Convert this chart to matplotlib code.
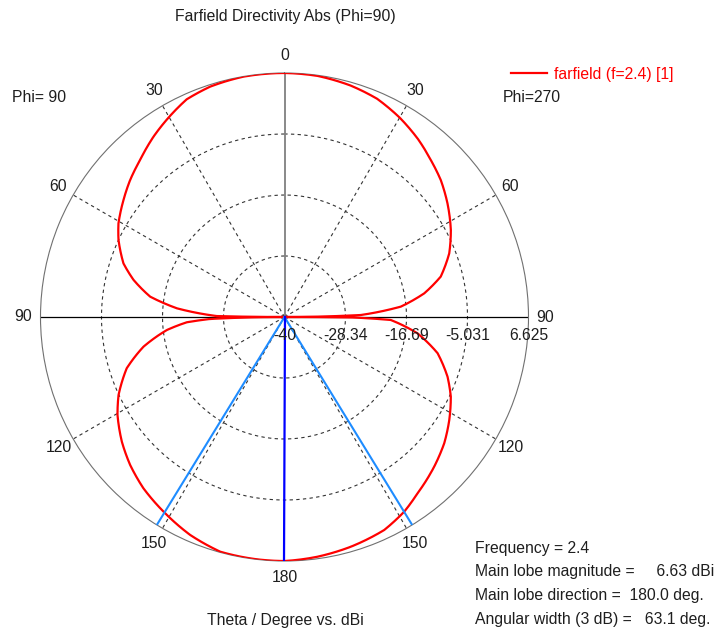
#!/usr/bin/env python3
"""Farfield directivity polar cut (Phi=90 / Phi=270), CST-style."""
import numpy as np
import matplotlib
matplotlib.use("Agg")
import matplotlib.pyplot as plt
from matplotlib.transforms import offset_copy

W, H = 725, 637
RMIN, RMAX = -40.0, 6.625
RINGS = [-28.34, -16.69, -5.031]
R_TICKS = [-40.0, -28.34, -16.69, -5.031, 6.625]
R_LABELS = ["-40", "-28.34", "-16.69", "-5.031", "6.625"]
ANGLE_TICKS = [0, 30, 60, 90, 120, 150, 180]

# Phi=90 half (drawn on the left), theta in degrees, directivity in dBi
theta_left = [0, 9.7, 17.9, 24.2, 29.7, 36, 42.6, 48.4, 54, 60.6, 65.1, 71.6, 76.2, 81.4,
              85.4, 89.2, 90, 91.5, 93.1, 96.3, 101.9, 108, 115.2, 120.4, 127.5, 133.8,
              140.5, 148.7, 156.6, 164.7, 173.5, 180]
db_left = [6.63, 6.59, 6.25, 5.6, 4.2, 2.59, 0.76, -0.56, -1.97, -3.58, -5.03, -7.57,
           -10.3, -14.05, -19.4, -27.06, -40.0, -25.8, -21.3, -17.4, -12.46, -8.3, -4.95,
           -3.0, -0.83, 0.86, 2.4, 3.89, 5.38, 6.5, 6.6, 6.63]

# Phi=270 half (drawn on the right)
theta_right = [0, 7.8, 15.9, 23, 30, 36.9, 43, 48.8, 55.1, 62.4, 68.9, 75.5, 80.4, 84.9,
               88.5, 90, 90.4, 91.6, 97, 103.3, 110.1, 115.6, 122, 128.3, 135, 143, 148.4,
               154.9, 163.9, 172.2, 180]
db_right = [6.63, 6.5, 6.0, 5.3, 4.0, 2.5, 1.0, -0.3, -2.03, -4.13, -6.26, -9.16,
            -12.92, -17.68, -25.4, -40.0, -27.0, -19.7, -14.4, -9.94, -6.83, -4.76, -2.87,
            -1.1, 0.45, 2.21, 3.67, 4.94, 5.69, 6.24, 6.63]

FREQ = 2.4
MAIN_MAG = 6.63
MAIN_DIR = 180.0
BEAMWIDTH = 63.1

TXT = "#1e1e1e"
FS = 11.3
plt.rcParams.update({"font.family": ["Liberation Sans", "DejaVu Sans"], "font.size": FS})

fig = plt.figure(figsize=(W / 100, H / 100), dpi=100)
cx, cy, R = 284.5, 317.0, 244.0
ax = fig.add_axes([(cx - R) / W, 1 - (cy + R) / H, 2 * R / W, 2 * R / H], projection="polar")
ax.set_theta_zero_location("N")
ax.set_theta_direction(1)
ax.set_ylim(RMIN, RMAX)
ax.grid(False)
ax.set_xticks([])
ax.set_yticks([])
ax.spines["polar"].set_color("#707070")
ax.spines["polar"].set_linewidth(0.8)

# grid: dashed rings and spokes, solid main axes
ring = np.linspace(0, 2 * np.pi, 400)
for r in RINGS:
    ax.plot(ring, np.full_like(ring, r), color="#333333", lw=0.8, ls=(0, (3, 3)))
for a in (30, 60, 120, 150):
    for s in (1, -1):
        t = np.deg2rad(s * a)
        ax.plot([t, t], [RMIN, RMAX], color="#333333", lw=0.8, ls=(0, (3, 3)))
for t in (np.pi / 2, -np.pi / 2):
    ax.plot([t, t], [RMIN, RMAX], color="black", lw=0.9)
ax.plot([0, 0], [RMIN, RMAX], color="#808080", lw=1.3)

# pattern: left half 0->180, right half 180->0
ang = np.concatenate([np.deg2rad(theta_left), 2 * np.pi - np.deg2rad(theta_right[::-1])])
val = np.clip(np.concatenate([db_left, db_right[::-1]]), RMIN, None)
line, = ax.plot(ang, val, color="#ff0000", lw=1.6, label="farfield (f=2.4) [1]", zorder=4)
# let the polar transform draw each segment as an arc instead of a chord
line.get_path()._interpolation_steps = 16

# main lobe direction and 3 dB width
md = np.deg2rad(MAIN_DIR)
hw = np.deg2rad(BEAMWIDTH / 2)
for t in (md - hw, md + hw):
    ax.plot([t, t], [RMIN, RMAX], color="#1e8cff", lw=1.5, zorder=5)
ax.plot([md, md], [RMIN, RMAX], color="#0000ff", lw=1.6, zorder=6)

# angle labels
off = 17
for a in ANGLE_TICKS:
    for s in (1, -1):
        if s == -1 and a in (0, 180):
            continue
        t = np.deg2rad(s * a)
        tr = offset_copy(ax.transData, fig=fig, x=-np.sin(t) * off, y=np.cos(t) * off, units="dots")
        ax.text(t, RMAX, str(a), transform=tr, ha="center", va="center", color=TXT,
                clip_on=False)

# radial labels along the right horizontal axis
tr = offset_copy(ax.transData, fig=fig, x=0, y=-18, units="dots")
for r, lab in zip(R_TICKS, R_LABELS):
    ax.text(-np.pi / 2, r, lab, transform=tr, ha="center", va="center", color=TXT,
            clip_on=False, zorder=7)

fig.text(285 / W, 1 - 17 / H, "Farfield Directivity Abs (Phi=90)", ha="center", va="center", color=TXT)
fig.text(285 / W, 1 - 620 / H, "Theta / Degree vs. dBi", ha="center", va="center", color=TXT)
fig.text(12 / W, 1 - 98 / H, "Phi= 90", ha="left", va="center", color=TXT)
fig.text(503 / W, 1 - 98 / H, "Phi=270", ha="left", va="center", color=TXT)

fig.legend(loc="center left", bbox_to_anchor=(503 / W, 1 - 74 / H), frameon=False,
           borderpad=0, handlelength=2.3, handletextpad=0.45, labelcolor="#ff0000",
           fontsize=FS)

info = [f"Frequency = {FREQ}",
        f"Main lobe magnitude =     {MAIN_MAG:.2f} dBi",
        f"Main lobe direction =  {MAIN_DIR:.1f} deg.",
        f"Angular width (3 dB) =   {BEAMWIDTH:.1f} deg."]
for i, line_txt in enumerate(info):
    fig.text(475 / W, 1 - (548 + 23.7 * i) / H, line_txt, ha="left", va="center", color=TXT)

fig.savefig("out.png", dpi=100)
